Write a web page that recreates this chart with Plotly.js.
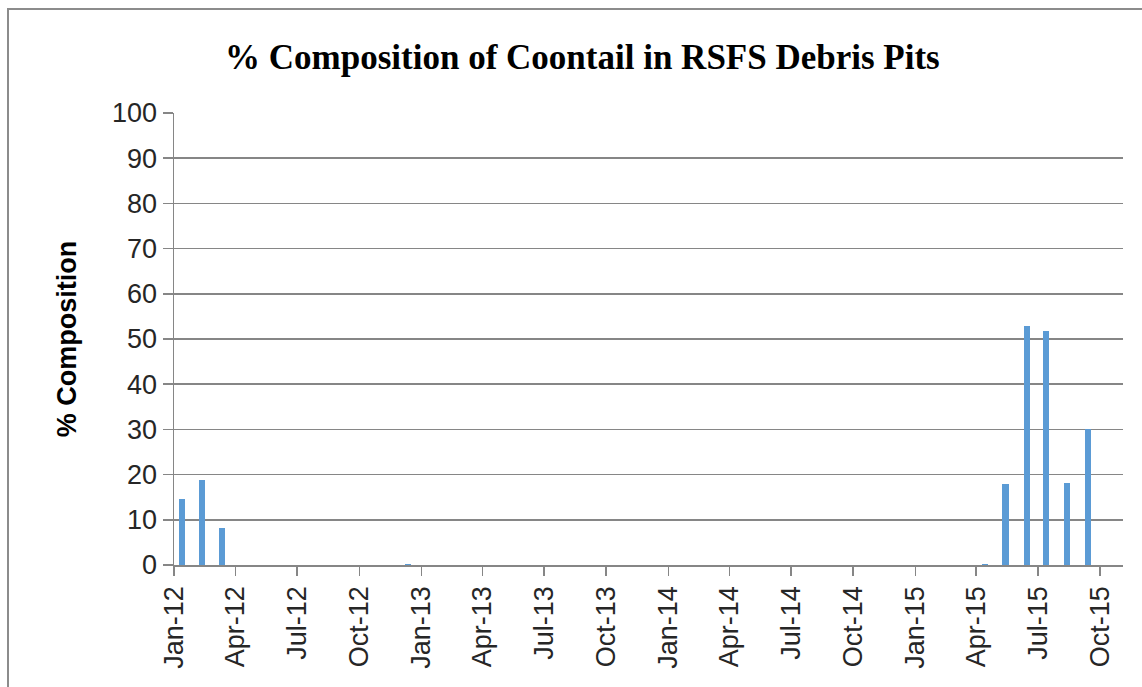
<!DOCTYPE html>
<html>
<head>
<meta charset="utf-8">
<script src="https://cdn.plot.ly/plotly-3.0.1.min.js"></script>
<style>
  html, body { margin: 0; padding: 0; background: #fff; }
  #wrap { position: relative; width: 1142px; height: 687px; overflow: hidden; }
  #chart { position: absolute; left: 0; top: 0; width: 1142px; height: 687px; }
  #frame { position: absolute; left: 7px; top: 8px; width: 1200px; height: 760px;
           border: 2px solid #8c8c8c; pointer-events: none; }
</style>
</head>
<body>
<div id="wrap">
  <div id="chart"></div>
  <div id="frame"></div>
</div>
<script>
// Sampling dates and % composition of coontail
const sampleDates = [
  '2012-01-13', '2012-02-11', '2012-03-12', '2012-12-12',
  '2015-04-14', '2015-05-14', '2015-06-15', '2015-07-13',
  '2015-08-13', '2015-09-13'
];
const composition = [14.6, 18.7, 8.2, 0.3, 0.3, 17.9, 52.9, 51.8, 18.1, 30.0];

// Quarterly axis ticks
const tickDates = [
  '2012-01-01', '2012-04-01', '2012-07-01', '2012-10-01',
  '2013-01-01', '2013-04-01', '2013-07-01', '2013-10-01',
  '2014-01-01', '2014-04-01', '2014-07-01', '2014-10-01',
  '2015-01-01', '2015-04-01', '2015-07-01', '2015-10-01'
];
const tickLabels = [
  'Jan-12', 'Apr-12', 'Jul-12', 'Oct-12',
  'Jan-13', 'Apr-13', 'Jul-13', 'Oct-13',
  'Jan-14', 'Apr-14', 'Jul-14', 'Oct-14',
  'Jan-15', 'Apr-15', 'Jul-15', 'Oct-15'
];

const DAY = 86400000;

const trace = {
  type: 'bar',
  x: sampleDates,
  y: composition,
  width: sampleDates.map(() => 9.5 * DAY),
  marker: { color: '#5b9bd5', line: { width: 0 } },
  hoverinfo: 'x+y'
};

const gridColor = '#868686';

const layout = {
  width: 1142,
  height: 687,
  margin: { l: 174, r: 19, t: 113, b: 122, pad: 0 },
  paper_bgcolor: '#ffffff',
  plot_bgcolor: '#ffffff',
  showlegend: false,
  bargap: 0,
  title: {
    text: '% Composition of Coontail in RSFS Debris Pits',
    font: { family: 'Liberation Serif, Times New Roman, serif', size: 35, color: '#000000', weight: 'bold' },
    x: 0.51, xref: 'container', xanchor: 'center',
    y: 0.917, yref: 'container', yanchor: 'middle'
  },
  xaxis: {
    type: 'date',
    range: ['2012-01-01', '2015-11-04'],
    tickmode: 'array',
    tickvals: tickDates,
    ticktext: tickLabels,
    tickangle: -90,
    ticks: 'outside',
    ticklen: 9,
    tickwidth: 1.5,
    tickcolor: gridColor,
    showline: true,
    linecolor: gridColor,
    linewidth: 1.5,
    showgrid: false,
    zeroline: false,
    tickfont: { family: 'Liberation Sans, Arial, sans-serif', size: 27, color: '#262626' },
    fixedrange: true
  },
  yaxis: {
    range: [0, 100],
    tickmode: 'linear',
    tick0: 0,
    dtick: 10,
    ticks: 'outside',
    ticklen: 10,
    tickwidth: 1.5,
    tickcolor: gridColor,
    showline: true,
    linecolor: gridColor,
    linewidth: 1.5,
    showgrid: true,
    gridcolor: gridColor,
    gridwidth: 1.5,
    zeroline: false,
    tickfont: { family: 'Liberation Sans, Arial, sans-serif', size: 27, color: '#262626' },
    title: {
      text: '% Composition',
      font: { family: 'Liberation Sans, Arial, sans-serif', size: 27, color: '#000000', weight: 'bold' },
      standoff: 27
    },
    automargin: false,
    fixedrange: true
  }
};

Plotly.newPlot('chart', [trace], layout, { displayModeBar: false, staticPlot: true });
</script>
</body>
</html>
